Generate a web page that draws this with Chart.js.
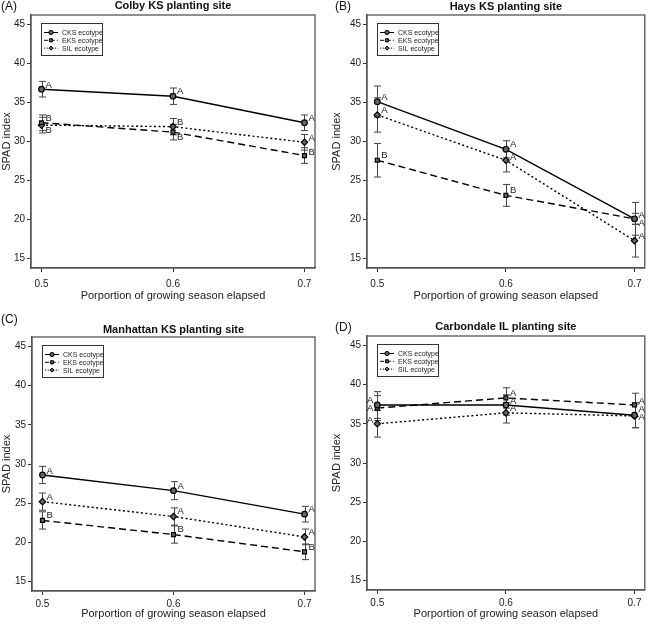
<!DOCTYPE html>
<html><head><meta charset="utf-8">
<script src="https://cdn.jsdelivr.net/npm/chart.js@4/dist/chart.umd.min.js"></script>
<style>
body{margin:0;background:#fff;width:650px;height:624px;position:relative;overflow:hidden}
canvas{position:absolute}
</style></head><body>
<canvas id="cA" width="325" height="312" style="left:0;top:0"></canvas>
<canvas id="cB" width="325" height="312" style="left:325px;top:0"></canvas>
<canvas id="cC" width="325" height="312" style="left:0;top:312px"></canvas>
<canvas id="cD" width="325" height="312" style="left:325px;top:312px"></canvas>
<script>
// ---- data ----
const xValues = [0.5, 0.6, 0.7];
const yTicks = [15, 20, 25, 30, 35, 40, 45];
const seriesNames = ['CKS ecotype', 'EKS ecotype', 'SIL ecotype'];

// (A) Colby KS
const colbyCKS = [36.7, 35.8, 32.4];
const colbyEKS = [32.4, 31.2, 28.2];
const colbySIL = [32.1, 31.9, 29.9];
const colbyErr = [[1.0, 1.05, 1.0], [1.0, 1.0, 1.0], [1.0, 1.05, 1.0]];
const colbyLetters = [['A', 'A', 'A'], ['B', 'B', 'B'], ['B', 'B', 'A']];
const colbyLetterY = [[37.25, 36.4, 33.0], [33.0, 30.5, 28.6], [31.4, 32.45, 30.45]];

// (B) Hays KS
const haysCKS = [35.1, 29.0, 20.1];
const haysEKS = [27.6, 23.1, 20.1];
const haysSIL = [33.4, 27.6, 17.3];
const haysErr = [[2.0, 1.1, 2.1], [2.15, 1.4, 0.7], [2.2, 1.5, 2.1]];
const haysLetters = [['A', 'A', 'A'], ['B', 'B', 'A'], ['A', 'A', 'A']];
const haysLetterY = [[35.6, 29.6, 20.6], [28.2, 23.7, 19.5], [34.0, 28.0, 17.9]];

// (C) Manhattan KS
const manhattanCKS = [28.6, 26.6, 23.6];
const manhattanEKS = [22.8, 21.0, 18.8];
const manhattanSIL = [25.2, 23.3, 20.7];
const manhattanErr = [[1.1, 1.15, 1.0], [1.1, 1.1, 1.0], [1.1, 1.1, 1.0]];
const manhattanLetters = [['A', 'A', 'A'], ['B', 'B', 'B'], ['A', 'A', 'A']];
const manhattanLetterY = [[29.1, 27.2, 24.2], [23.45, 21.6, 19.4], [25.8, 23.9, 21.3]];

// (D) Carbondale IL
const carbondaleCKS = [37.4, 37.4, 36.1];
const carbondaleEKS = [37.0, 38.3, 37.4];
const carbondaleSIL = [35.0, 36.4, 36.0];
const carbondaleErr = [[1.7, 1.3, 1.6], [1.6, 1.3, 1.5], [1.7, 1.3, 1.5]];
const carbondaleLetters = [['A', 'A', 'A'], ['A', 'A', 'A'], ['A', 'A', 'A']];
const carbondaleLetterY = [[38.0, 37.9, 36.8], [37.0, 38.85, 37.9], [35.5, 37.0, 35.8]];

// ---- rendering ----
const FONT = "'Liberation Sans', Arial, Helvetica, sans-serif";
Chart.defaults.font.family = FONT;
Chart.defaults.color = '#222';

const styles = [
  { dash: [], point: 'circle', r: 2.8 },
  { dash: [7, 4], point: 'rect', r: 2.8 },
  { dash: [2, 2.5], point: 'rectRot', r: 3.2 }
];

function makePanel(cfg) {
  const series = [cfg.cks, cfg.eks, cfg.sil];
  const datasets = series.map((vals, i) => ({
    label: seriesNames[i],
    data: xValues.map((x, j) => ({ x: x, y: vals[j] })),
    borderColor: '#000',
    borderWidth: 1.4,
    borderDash: styles[i].dash,
    pointStyle: styles[i].point,
    pointRadius: styles[i].r,
    pointBackgroundColor: '#666',
    pointBorderColor: '#000',
    pointBorderWidth: 1.2,
    tension: 0,
    fill: false,
    clip: false
  }));

  const decor = {
    id: 'decor_' + cfg.id,
    beforeDatasetsDraw(chart) {
      const ctx = chart.ctx, xs = chart.scales.x, ys = chart.scales.y;
      ctx.save();
      ctx.strokeStyle = '#444';
      ctx.lineWidth = 1;
      series.forEach((vals, i) => {
        vals.forEach((v, j) => {
          const e = cfg.err[i][j];
          const px = Math.round(xs.getPixelForValue(xValues[j])) + 0.5;
          const y1 = ys.getPixelForValue(v + e), y2 = ys.getPixelForValue(v - e);
          ctx.beginPath();
          ctx.moveTo(px, y1); ctx.lineTo(px, y2);
          ctx.moveTo(px - 3.5, y1); ctx.lineTo(px + 3.5, y1);
          ctx.moveTo(px - 3.5, y2); ctx.lineTo(px + 3.5, y2);
          ctx.stroke();
        });
      });
      ctx.restore();
    },
    afterDatasetsDraw(chart) {
      const ctx = chart.ctx, xs = chart.scales.x, ys = chart.scales.y, a = chart.chartArea;
      ctx.save();
      // box
      ctx.strokeStyle = '#555';
      ctx.lineWidth = 1.3;
      ctx.strokeRect(a.left, a.top, a.right - a.left, a.bottom - a.top);
      // letters
      ctx.fillStyle = '#222';
      ctx.font = '9.5px ' + FONT;
      ctx.textBaseline = 'middle';
      series.forEach((vals, i) => {
        vals.forEach((v, j) => {
          const px = xs.getPixelForValue(xValues[j]);
          const py = ys.getPixelForValue(cfg.letterY[i][j]);
          const left = cfg.leftLetters && j === 0;
          ctx.textAlign = left ? 'right' : 'left';
          ctx.fillText(cfg.letters[i][j], left ? px - 4 : px + 4, py);
        });
      });
      // legend
      const lx = a.left + 10, ly = a.top + 8, lw = 61, lh = 32;
      ctx.strokeStyle = '#333';
      ctx.lineWidth = 1;
      ctx.strokeRect(lx + 0.5, ly + 0.5, lw, lh);
      ctx.font = '7px ' + FONT;
      ctx.textAlign = 'left';
      datasets.forEach((ds, i) => {
        const ry = ly + 9.5 + i * 7.8;
        ctx.strokeStyle = '#000';
        ctx.lineWidth = 1;
        ctx.setLineDash(ds.borderDash.map(d => d * 0.6));
        ctx.beginPath();
        ctx.moveTo(lx + 3, ry); ctx.lineTo(lx + 17, ry);
        ctx.stroke();
        ctx.setLineDash([]);
        ctx.fillStyle = '#666';
        ctx.lineWidth = 0.9;
        Chart.helpers.drawPoint(ctx, { pointStyle: ds.pointStyle, radius: 2, borderWidth: 0.9 }, lx + 10, ry);
        ctx.fill(); ctx.stroke();
        ctx.fillStyle = '#222';
        ctx.fillText(ds.label, lx + 21, ry + 0.5);
      });
      ctx.restore();
    },
    afterDraw(chart) {
      const ctx = chart.ctx, a = chart.chartArea;
      ctx.save();
      ctx.fillStyle = '#111';
      ctx.textBaseline = 'middle';
      ctx.font = 'bold 11px ' + FONT;
      ctx.textAlign = 'center';
      ctx.fillText(cfg.title, (a.left + a.right) / 2, cfg.titleY);
      ctx.font = '12px ' + FONT;
      ctx.textAlign = 'left';
      ctx.fillText(cfg.tag, cfg.tagX, cfg.tagY);
      ctx.restore();
    }
  };

  new Chart(document.getElementById(cfg.id), {
    type: 'line',
    data: { datasets: datasets },
    plugins: [decor],
    options: {
      responsive: false,
      animation: false,
      devicePixelRatio: 1,
      layout: { padding: { left: 0, top: cfg.top, right: cfg.right, bottom: 0 } },
      plugins: { legend: { display: false }, tooltip: { enabled: false }, title: { display: false } },
      scales: {
        x: {
          type: 'linear', min: 0.492, max: 0.708,
          afterBuildTicks: s => { s.ticks = xValues.map(v => ({ value: v })); },
          afterFit: s => { s.height = cfg.xh; },
          ticks: { callback: v => v.toFixed(1), font: { size: 10 }, color: '#222', padding: cfg.xpad, maxRotation: 0, autoSkip: false },
          grid: { drawOnChartArea: false, drawTicks: true, tickLength: 4, color: '#333' },
          border: { display: true, color: '#555', width: 1.3 },
          title: { display: true, text: 'Porportion of growing season elapsed', font: { size: 11 }, color: '#222', padding: { top: 0, bottom: cfg.xtitlePad } }
        },
        y: {
          type: 'linear', min: 13.8, max: 46.2,
          afterBuildTicks: s => { s.ticks = yTicks.map(v => ({ value: v })); },
          afterFit: s => { s.width = cfg.yw; },
          ticks: { callback: v => String(v), font: { size: 10 }, color: '#222', padding: 2, autoSkip: false },
          grid: { drawOnChartArea: false, drawTicks: true, tickLength: 4, color: '#333' },
          border: { display: true, color: '#555', width: 1.3 },
          title: { display: true, text: 'SPAD index', font: { size: 11 }, color: '#222', padding: { top: cfg.ytitlePad, bottom: 0 } }
        }
      }
    }
  });
}

makePanel({ id: 'cA', tag: '(A)', tagX: 1, tagY: 7, title: 'Colby KS planting site', titleY: 6,
  cks: colbyCKS, eks: colbyEKS, sil: colbySIL, err: colbyErr, letters: colbyLetters, letterY: colbyLetterY,
  top: 15, right: 10, yw: 31, xh: 44, xpad: 6, xtitlePad: 9, ytitlePad: 0 });
makePanel({ id: 'cB', tag: '(B)', tagX: 10, tagY: 7, title: 'Hays KS planting site', titleY: 7,
  cks: haysCKS, eks: haysEKS, sil: haysSIL, err: haysErr, letters: haysLetters, letterY: haysLetterY,
  top: 15, right: 1, yw: 42, xh: 44, xpad: 6, xtitlePad: 9, ytitlePad: 5 });
makePanel({ id: 'cC', tag: '(C)', tagX: 1, tagY: 8, title: 'Manhattan KS planting site', titleY: 18,
  cks: manhattanCKS, eks: manhattanEKS, sil: manhattanSIL, err: manhattanErr, letters: manhattanLetters, letterY: manhattanLetterY,
  top: 25, right: 10, yw: 32, xh: 33, xpad: 3, xtitlePad: 3, ytitlePad: 0 });
makePanel({ id: 'cD', tag: '(D)', tagX: 10, tagY: 16, title: 'Carbondale IL planting site', titleY: 15,
  cks: carbondaleCKS, eks: carbondaleEKS, sil: carbondaleSIL, err: carbondaleErr, letters: carbondaleLetters, letterY: carbondaleLetterY,
  leftLetters: true,
  top: 24, right: 1, yw: 42, xh: 34, xpad: 3, xtitlePad: 3, ytitlePad: 5 });
</script>
</body></html>
